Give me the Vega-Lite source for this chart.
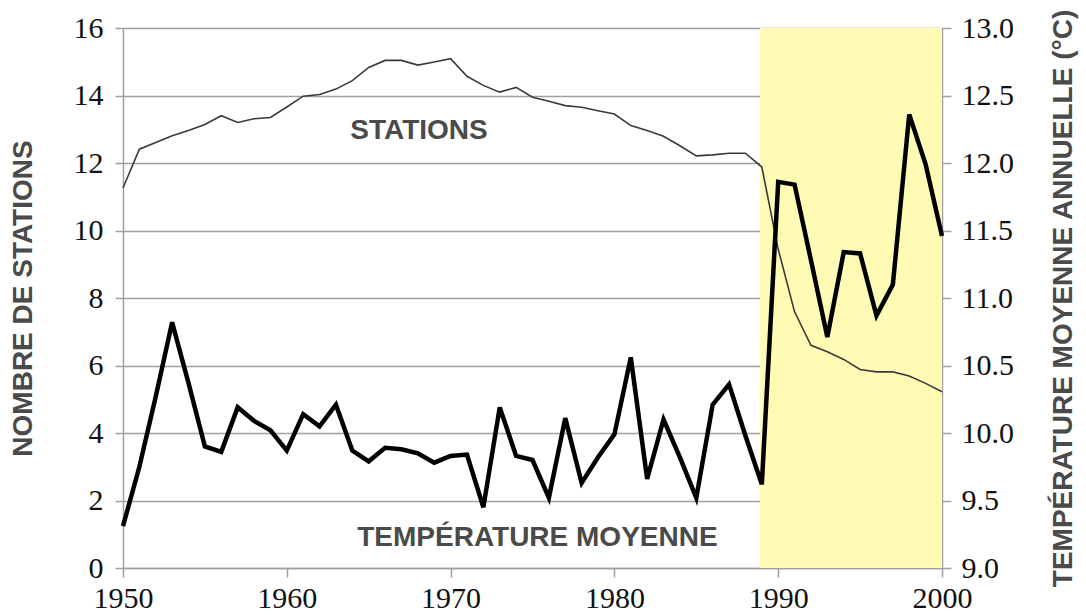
{
  "$schema": "https://vega.github.io/schema/vega-lite/v6.json",
  "autosize": "none",
  "width": 819,
  "height": 540,
  "padding": {"left": 123, "top": 28, "right": 144, "bottom": 47},
  "background": "white",
  "config": {
    "view": {"stroke": null},
    "axis": {
      "labelFont": "Liberation Serif, Times New Roman, serif",
      "labelFontSize": 30,
      "labelColor": "#111111",
      "titleFont": "Liberation Sans",
      "titleFontSize": 28,
      "titleFontWeight": "bold",
      "titleColor": "#4a4a4a",
      "domainColor": "#a0a0a0",
      "domainWidth": 1.5,
      "tickColor": "#a0a0a0",
      "tickWidth": 1.5,
      "gridColor": "#a0a0a0",
      "gridWidth": 1.5,
      "gridOpacity": 1
    }
  },
  "datasets": {
    "stations": [
      {"year": 1950, "stations": 11.26},
      {"year": 1951, "stations": 12.41},
      {"year": 1952, "stations": 12.61},
      {"year": 1953, "stations": 12.81},
      {"year": 1954, "stations": 12.96},
      {"year": 1955, "stations": 13.14},
      {"year": 1956, "stations": 13.4},
      {"year": 1957, "stations": 13.2},
      {"year": 1958, "stations": 13.31},
      {"year": 1959, "stations": 13.35},
      {"year": 1960, "stations": 13.66},
      {"year": 1961, "stations": 13.98},
      {"year": 1962, "stations": 14.03},
      {"year": 1963, "stations": 14.19},
      {"year": 1964, "stations": 14.44},
      {"year": 1965, "stations": 14.83},
      {"year": 1966, "stations": 15.04},
      {"year": 1967, "stations": 15.04},
      {"year": 1968, "stations": 14.9},
      {"year": 1969, "stations": 14.99},
      {"year": 1970, "stations": 15.09},
      {"year": 1971, "stations": 14.57},
      {"year": 1972, "stations": 14.3},
      {"year": 1973, "stations": 14.1},
      {"year": 1974, "stations": 14.24},
      {"year": 1975, "stations": 13.95},
      {"year": 1976, "stations": 13.83},
      {"year": 1977, "stations": 13.7},
      {"year": 1978, "stations": 13.65},
      {"year": 1979, "stations": 13.55},
      {"year": 1980, "stations": 13.45},
      {"year": 1981, "stations": 13.11},
      {"year": 1982, "stations": 12.96},
      {"year": 1983, "stations": 12.79},
      {"year": 1984, "stations": 12.51},
      {"year": 1985, "stations": 12.21},
      {"year": 1986, "stations": 12.24},
      {"year": 1987, "stations": 12.29},
      {"year": 1988, "stations": 12.29},
      {"year": 1989, "stations": 11.88},
      {"year": 1990, "stations": 9.45},
      {"year": 1991, "stations": 7.59},
      {"year": 1992, "stations": 6.6},
      {"year": 1993, "stations": 6.41},
      {"year": 1994, "stations": 6.18},
      {"year": 1995, "stations": 5.88},
      {"year": 1996, "stations": 5.81},
      {"year": 1997, "stations": 5.81},
      {"year": 1998, "stations": 5.69},
      {"year": 1999, "stations": 5.47},
      {"year": 2000, "stations": 5.22}
    ],
    "temperature": [
      {"year": 1950, "temp": 9.31},
      {"year": 1951, "temp": 9.75},
      {"year": 1952, "temp": 10.27},
      {"year": 1953, "temp": 10.82},
      {"year": 1954, "temp": 10.37},
      {"year": 1955, "temp": 9.9},
      {"year": 1956, "temp": 9.86},
      {"year": 1957, "temp": 10.19},
      {"year": 1958, "temp": 10.09},
      {"year": 1959, "temp": 10.02},
      {"year": 1960, "temp": 9.87},
      {"year": 1961, "temp": 10.14},
      {"year": 1962, "temp": 10.05},
      {"year": 1963, "temp": 10.21},
      {"year": 1964, "temp": 9.87},
      {"year": 1965, "temp": 9.79},
      {"year": 1966, "temp": 9.89},
      {"year": 1967, "temp": 9.88},
      {"year": 1968, "temp": 9.85},
      {"year": 1969, "temp": 9.78},
      {"year": 1970, "temp": 9.83},
      {"year": 1971, "temp": 9.84},
      {"year": 1972, "temp": 9.45},
      {"year": 1973, "temp": 10.19},
      {"year": 1974, "temp": 9.83},
      {"year": 1975, "temp": 9.8},
      {"year": 1976, "temp": 9.52},
      {"year": 1977, "temp": 10.11},
      {"year": 1978, "temp": 9.63},
      {"year": 1979, "temp": 9.82},
      {"year": 1980, "temp": 9.99},
      {"year": 1981, "temp": 10.56},
      {"year": 1982, "temp": 9.66},
      {"year": 1983, "temp": 10.1},
      {"year": 1984, "temp": 9.82},
      {"year": 1985, "temp": 9.52},
      {"year": 1986, "temp": 10.21},
      {"year": 1987, "temp": 10.36},
      {"year": 1988, "temp": 9.98},
      {"year": 1989, "temp": 9.62},
      {"year": 1990, "temp": 11.86},
      {"year": 1991, "temp": 11.84},
      {"year": 1992, "temp": 11.28},
      {"year": 1993, "temp": 10.71},
      {"year": 1994, "temp": 11.34},
      {"year": 1995, "temp": 11.33},
      {"year": 1996, "temp": 10.87},
      {"year": 1997, "temp": 11.1},
      {"year": 1998, "temp": 12.36},
      {"year": 1999, "temp": 11.99},
      {"year": 2000, "temp": 11.46}
    ],
    "period": [
      {"start": 1988.9, "end": 2000}
    ],
    "labels": [
      {"label": "STATIONS", "year": 1968.07, "value": 12.96},
      {"label": "TEMPÉRATURE MOYENNE", "year": 1975.3, "value": 0.9}
    ]
  },
  "layer": [
    {
      "layer": [
        {
          "data": {"name": "period"},
          "mark": {"type": "rect", "color": "#fffab4"},
          "encoding": {
            "x": {"field": "start", "type": "quantitative"},
            "x2": {"field": "end"}
          }
        },
        {
          "data": {"name": "stations"},
          "mark": {"type": "line", "color": "#3a3a3a", "strokeWidth": 1.6},
          "encoding": {
            "x": {
              "field": "year", "type": "quantitative",
              "scale": {"domain": [1950, 2000], "nice": false, "zero": false},
              "axis": {
                "title": null, "values": [1950, 1960, 1970, 1980, 1990, 2000],
                "format": "d", "grid": false, "tickSize": 9, "labelPadding": 6,
                "labelFlush": false, "labelOverlap": false
              }
            },
            "y": {
              "field": "stations", "type": "quantitative",
              "scale": {"domain": [0, 16], "nice": false},
              "axis": {
                "title": "NOMBRE DE STATIONS",
                "values": [0, 2, 4, 6, 8, 10, 12, 14, 16],
                "tickSize": 8, "labelPadding": 12, "titlePadding": 36,
                "grid": true
              }
            }
          }
        },
        {
          "data": {"name": "labels"},
          "mark": {
            "type": "text", "font": "Liberation Sans", "fontSize": 28,
            "fontWeight": "bold", "color": "#4a4a4a",
            "align": "center", "baseline": "middle"
          },
          "encoding": {
            "x": {"field": "year", "type": "quantitative"},
            "y": {"field": "value", "type": "quantitative"},
            "text": {"field": "label"}
          }
        }
      ]
    },
    {
      "data": {"name": "temperature"},
      "mark": {"type": "line", "color": "#000000", "strokeWidth": 4.5, "strokeJoin": "miter"},
      "encoding": {
        "x": {"field": "year", "type": "quantitative"},
        "y": {
          "field": "temp", "type": "quantitative",
          "scale": {"domain": [9, 13], "nice": false, "zero": false},
          "axis": {
            "orient": "right",
            "title": "TEMPÉRATURE MOYENNE ANNUELLE (°C)",
            "values": [9, 9.5, 10, 10.5, 11, 11.5, 12, 12.5, 13],
            "format": ".1f", "grid": false,
            "tickSize": 9, "labelPadding": 10,
            "titleAngle": -90, "titleBaseline": "top", "titlePadding": 36
          }
        }
      }
    }
  ],
  "resolve": {"scale": {"y": "independent"}}
}
